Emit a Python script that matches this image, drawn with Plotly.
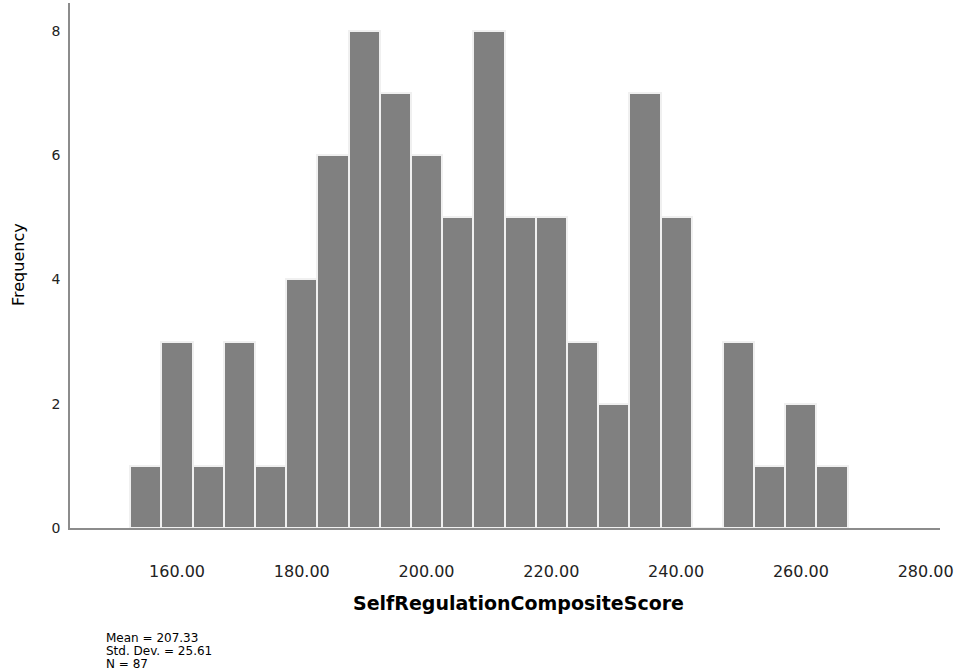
import plotly.graph_objects as go

# Bin centres (width 5) and frequencies
bin_centers = [155, 160, 165, 170, 175, 180, 185, 190, 195, 200, 205, 210,
               215, 220, 225, 230, 235, 240, 245, 250, 255, 260, 265]
frequencies = [1, 3, 1, 3, 1, 4, 6, 8, 7, 6, 5, 8,
               5, 5, 3, 2, 7, 5, 0, 3, 1, 2, 1]
x_ticks = [160, 180, 200, 220, 240, 260, 280]
x_tick_labels = ["160.00", "180.00", "200.00", "220.00", "240.00", "260.00", "280.00"]
y_ticks = [0, 2, 4, 6, 8]
stats_lines = ["Mean = 207.33", "Std. Dev. = 25.61", "N = 87"]
x_title = "SelfRegulationCompositeScore"
y_title = "Frequency"

FONT = "DejaVu Sans"

fig = go.Figure()
fig.add_trace(go.Bar(
    x=bin_centers, y=frequencies, width=5,
    marker=dict(color="#808080", line=dict(color="#f0f0f0", width=2)),
    hoverinfo="x+y",
))

fig.update_layout(
    width=959, height=672,
    margin=dict(l=70, r=19, t=3, b=144),
    paper_bgcolor="white", plot_bgcolor="white",
    showlegend=False,
    bargap=0,
    font=dict(family=FONT, color="#000000"),
)
fig.update_xaxes(
    range=[142.85, 282.3],
    tickvals=x_ticks, ticktext=x_tick_labels,
    tickfont=dict(size=16, family=FONT, color="#222"),
    showgrid=False, zeroline=False,
    showline=True, linecolor="#8c8c8c", linewidth=1.5,
    ticks="", ticklabelstandoff=28,
)
fig.update_yaxes(
    range=[0, 8.45],
    tickvals=y_ticks,
    tickfont=dict(size=14, family=FONT, color="#222"),
    showgrid=False, zeroline=False,
    showline=True, linecolor="#8c8c8c", linewidth=1.5,
    ticks="", ticklabelstandoff=5,
)

# axis titles
fig.add_annotation(text="<b>" + x_title + "</b>", xref="paper", yref="paper",
                   x=(518 - 70) / 870, y=-(603 - 528) / 525,
                   showarrow=False, font=dict(size=19, family=FONT, color="#000"),
                   xanchor="center", yanchor="middle")
fig.add_annotation(text=y_title, xref="paper", yref="paper",
                   x=-(70 - 18) / 870, y=(528 - 265) / 525, textangle=-90,
                   showarrow=False, font=dict(size=16, family=FONT, color="#000"),
                   xanchor="center", yanchor="middle")

# statistics box
for i, line in enumerate(stats_lines):
    fig.add_annotation(text=line, xref="paper", yref="paper",
                       x=-(70 - 104) / 870, y=-(637.5 + 13 * i - 528) / 525,
                       showarrow=False, font=dict(size=12, family=FONT, color="#000"),
                       xanchor="left", yanchor="middle")

fig.write_html("out.html", config={"displayModeBar": False},
               post_script="document.body.style.margin='0px';")
